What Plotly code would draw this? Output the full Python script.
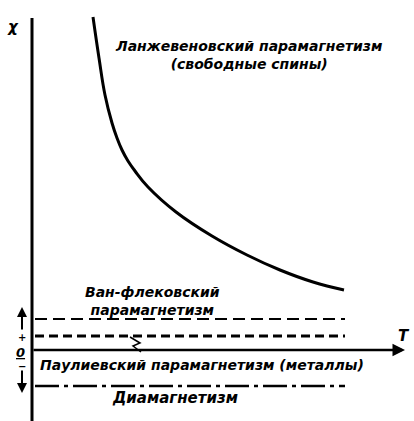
import plotly.graph_objects as go

# Langevin (Curie) paramagnetism: chi vs T (arbitrary units)
T_langevin = [6.1, 6.7, 7.3, 8.0, 8.5, 9.0, 9.6, 10.3, 11.6, 14.4, 18.0, 21.5, 24.8, 28.1, 31.2]
chi_langevin = [33.3, 29.2, 25.5, 22.7, 21.2, 20.0, 18.9, 17.9, 16.3, 13.8, 11.4, 9.5, 8.0, 6.8, 6.0]

# Temperature-independent contributions
T_flat = [0.3, 31.3]
chi_vanvleck = [3.1, 3.1]
chi_pauli = [1.4, 1.4]
chi_dia = [-3.6, -3.6]

labels = {
    "langevin": "Ланжевеновский парамагнетизм<br>(свободные спины)",
    "vanvleck": "Ван-флековский<br>парамагнетизм",
    "pauli": "Паулиевский парамагнетизм (металлы)",
    "dia": "Диамагнетизм",
}

FONT = dict(family="DejaVu Sans", size=12, color="black", weight="bold", style="italic")

fig = go.Figure()
fig.add_trace(go.Scatter(x=T_langevin, y=chi_langevin, mode="lines",
                         line=dict(color="black", width=3, shape="spline", smoothing=1.2),
                         showlegend=False))
fig.add_trace(go.Scatter(x=T_flat, y=chi_vanvleck, mode="lines",
                         line=dict(color="black", width=2.2, dash="12px,6px"), showlegend=False))
fig.add_trace(go.Scatter(x=T_flat, y=chi_pauli, mode="lines",
                         line=dict(color="black", width=2.8, dash="9px,5px"), showlegend=False))
fig.add_trace(go.Scatter(x=T_flat, y=chi_dia, mode="lines",
                         line=dict(color="black", width=2.5, dash="24px,5px,4px,5px"), showlegend=False))

# axes drawn as lines
fig.add_shape(type="line", x0=0, x1=0, y0=-7.1, y1=33.2, line=dict(color="black", width=3))
fig.add_annotation(x=37.3, y=0, ax=0, ay=0, xref="x", yref="y", axref="x", ayref="y",
                   showarrow=True, arrowhead=2, arrowsize=1, arrowwidth=2.5, arrowcolor="black", text="")

# small pointer from Pauli line to axis
fig.add_shape(type="path", path="M 9.8 1.3 L 10.8 0.7 L 10.1 0.4 L 10.9 -0.2",
              line=dict(color="black", width=1.5))

# sign arrows on the left
fig.add_annotation(x=-1.0, y=4.3, ax=-1.0, ay=1.9, xref="x", yref="y", axref="x", ayref="y",
                   showarrow=True, arrowhead=2, arrowsize=1, arrowwidth=2, arrowcolor="black", text="")
fig.add_annotation(x=-1.0, y=-4.3, ax=-1.0, ay=-1.9, xref="x", yref="y", axref="x", ayref="y",
                   showarrow=True, arrowhead=2, arrowsize=1, arrowwidth=2, arrowcolor="black", text="")

texts = [
    (-1.9, 32.3, "χ", 15),
    (37.2, 1.4, "T", 15),
    (-1.0, 1.3, "+", 10),
    (-1.0, -1.6, "−", 10),
    (-1.2, -0.2, "<u>0</u>", 13),
    (21.6, 29.5, labels["langevin"], 14),
    (12.0, 4.9, labels["vanvleck"], 14),
    (17.0, -1.5, labels["pauli"], 14),
    (14.3, -4.8, labels["dia"], 15),
]
for x, y, t, s in texts:
    f = dict(FONT)
    f["size"] = s
    fig.add_annotation(x=x, y=y, text=t, showarrow=False, font=f, xref="x", yref="y")

fig.update_layout(
    width=414, height=421,
    margin=dict(l=0, r=0, t=0, b=0),
    paper_bgcolor="white", plot_bgcolor="white",
    xaxis=dict(range=[-3.2, 38.2], visible=False),
    yaxis=dict(range=[-7.1, 35.0], visible=False),
)
fig.write_html("out.html", config={"displayModeBar": False},
               post_script="document.body.style.margin='0';document.body.style.overflow='hidden';")
